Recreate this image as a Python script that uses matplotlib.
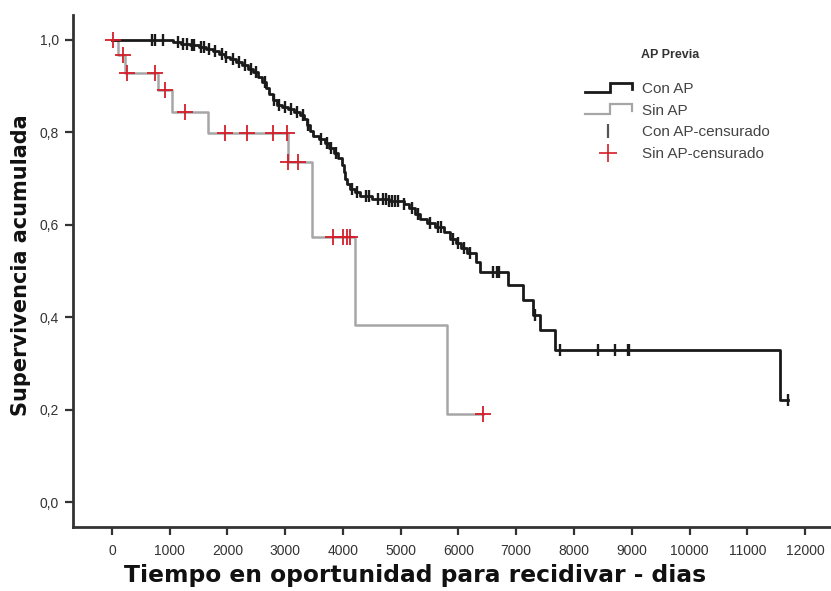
import numpy as np
import matplotlib
matplotlib.use("Agg")
import matplotlib.pyplot as plt
from matplotlib.legend_handler import HandlerBase
from matplotlib.lines import Line2D

plt.rcParams['font.family'] = ['Liberation Sans', 'DejaVu Sans']

# ---- Data ----
# Con AP: event times and survival after each step
con_times = [0, 1050, 1200, 1350, 1500, 1620, 1750, 1850, 1950, 2050, 2150, 2250, 2350,
             2450, 2530, 2600, 2660, 2720, 2780, 2850, 2950, 3050, 3150, 3250, 3320,
             3380, 3430, 3480, 3580, 3680, 3760, 3840, 3920, 3980, 4010, 4040, 4070,
             4120, 4200, 4300, 4500, 4800, 5050, 5150, 5250, 5330, 5450, 5600, 5750,
             5850, 5950, 6050, 6150, 6300, 6380, 6860, 7120, 7290, 7410, 7670, 11560]
con_surv = [1.0, 0.996, 0.992, 0.988, 0.984, 0.980, 0.976, 0.970, 0.964, 0.958, 0.952,
            0.946, 0.938, 0.930, 0.920, 0.908, 0.895, 0.882, 0.870, 0.860, 0.855, 0.850,
            0.845, 0.838, 0.828, 0.815, 0.802, 0.792, 0.785, 0.776, 0.766, 0.756, 0.745,
            0.730, 0.715, 0.700, 0.688, 0.678, 0.670, 0.662, 0.656, 0.652, 0.646, 0.636,
            0.624, 0.612, 0.604, 0.596, 0.584, 0.570, 0.560, 0.550, 0.540, 0.520, 0.498,
            0.470, 0.437, 0.405, 0.372, 0.329, 0.220]
con_end = 11710
con_censored = [700, 750, 880, 1150, 1230, 1300, 1380, 1420, 1550, 1600, 1680, 1780,
                1900, 1980, 2100, 2200, 2300, 2400, 2500, 2650, 2800, 2900, 3000, 3100,
                3200, 3300, 3400, 3620, 3720, 3800, 3880, 4150, 4250, 4400, 4450, 4600,
                4700, 4750, 4800, 4850, 4900, 4950, 5050, 5200, 5300, 5500, 5650, 5700,
                5900, 6000, 6100, 6200, 6600, 6670, 6700, 7330, 7760, 8420, 8710, 8930,
                8960, 11700]

# Sin AP
sin_times = [0, 100, 230, 800, 1040, 1660, 3040, 3460, 4200, 5800]
sin_surv = [1.0, 0.967, 0.929, 0.892, 0.844, 0.799, 0.736, 0.574, 0.383, 0.191]
sin_end = 6420
sin_censored = [20, 190, 260, 745, 918, 1264, 1957, 2338, 2788, 3030, 3048, 3220,
                3827, 4000, 4069, 4120, 6420]

yticks = [0.0, 0.2, 0.4, 0.6, 0.8, 1.0]
xticks = list(range(0, 12001, 1000))

legend_title = 'AP Previa'
legend_labels = ['Con AP', 'Sin AP', 'Con AP-censurado', 'Sin AP-censurado']

CON_COLOR = '#1a1a1a'
SIN_COLOR = '#a6a6a6'
RED = '#d41e2a'
TXT = '#333333'


def step_value(times, surv, t):
    idx = np.searchsorted(times, t, side='right') - 1
    return np.asarray(surv)[idx]


W, H = 831, 591
fig = plt.figure(figsize=(W / 100, H / 100), dpi=100)
ax = fig.add_axes([73 / W, (H - 527) / H, 1 - 73 / W, (527 - 15) / H])

# Con AP curve
cx = list(con_times) + [con_end]
cy = list(con_surv) + [con_surv[-1]]
ax.step(cx, cy, where='post', color=CON_COLOR, lw=2.0, zorder=3)
cc = np.array(con_censored)
ax.plot(cc, step_value(con_times, con_surv, cc), ls='none', marker='|',
        ms=9, mew=1.7, color=CON_COLOR, zorder=4)

# Sin AP curve
sx = list(sin_times) + [sin_end]
sy = list(sin_surv) + [sin_surv[-1]]
ax.step(sx, sy, where='post', color=SIN_COLOR, lw=1.8, zorder=2)
sc = np.array(sin_censored)
ax.plot(sc, step_value(sin_times, sin_surv, sc), ls='none', marker='+',
        ms=12, mew=1.3, color=RED, zorder=5)

ax.set_xlim(-675, 12450)
ax.set_ylim(-0.054, 1.054)
ax.set_xticks(xticks)
ax.set_xticklabels([str(v) for v in xticks])
ax.set_yticks(yticks)
ax.set_yticklabels([f"{v:.1f}".replace('.', ',') for v in yticks])

for s in ['top', 'right']:
    ax.spines[s].set_visible(False)
for s in ['left', 'bottom']:
    ax.spines[s].set_linewidth(2.0)
    ax.spines[s].set_color('#333333')
ax.tick_params(axis='both', direction='out', length=6, width=1.6, color='#333333',
               labelsize=10, labelcolor=TXT)
ax.tick_params(axis='x', pad=6)
ax.tick_params(axis='y', pad=4)

ax.set_xlabel('Tiempo en oportunidad para recidivar - dias', fontsize=16.8,
              fontweight='bold', family='DejaVu Sans', color='#111111')
ax.set_ylabel('Supervivencia acumulada', fontsize=15, fontweight='bold',
              family='DejaVu Sans', color='#111111')
ax.xaxis.set_label_coords((415 - 73) / 758, -(564 - 527) / 512)
ax.yaxis.set_label_coords(-(73 - 31) / 758, (527 - 265) / 512)


class StepHandler(HandlerBase):
    def __init__(self, color, lw):
        super().__init__()
        self.color = color
        self.lw = lw

    def create_artists(self, legend, orig_handle, xdescent, ydescent, width, height,
                       fontsize, trans):
        x0, x1 = -xdescent, -xdescent + width
        xm = x0 + width * 0.53
        ylo = -ydescent + height * 0.1
        yhi = -ydescent + height * 0.95
        xs = [x0, xm, xm, x1, x1]
        ys = [ylo, ylo, yhi, yhi, yhi - height * 0.6]
        ln = Line2D(xs, ys, color=self.color, lw=self.lw, transform=trans,
                    solid_joinstyle='miter')
        return [ln]


h_con = Line2D([], [], color=CON_COLOR)
h_sin = Line2D([], [], color=SIN_COLOR)
h_ccen = Line2D([], [], ls='none', marker='|', ms=10, mew=1.6, color='#555555')
h_scen = Line2D([], [], ls='none', marker='+', ms=13, mew=1.2, color=RED)

leg = fig.legend([h_con, h_sin, h_ccen, h_scen], legend_labels,
                 handler_map={h_con: StepHandler(CON_COLOR, 2.0),
                              h_sin: StepHandler(SIN_COLOR, 1.6)},
                 loc='upper left', bbox_to_anchor=(585 / W, 1 - 82 / H),
                 bbox_transform=fig.transFigure,
                 frameon=False, fontsize=11, borderpad=0, borderaxespad=0,
                 handlelength=3.05, handleheight=0.7, handletextpad=0.65,
                 labelspacing=0.5)
for t in leg.get_texts():
    t.set_color('#444444')
fig.text(641 / W, 1 - 55 / H, legend_title, fontsize=9, fontweight='bold',
         color=TXT, ha='left', va='center')

fig.savefig('out.png', dpi=100)
